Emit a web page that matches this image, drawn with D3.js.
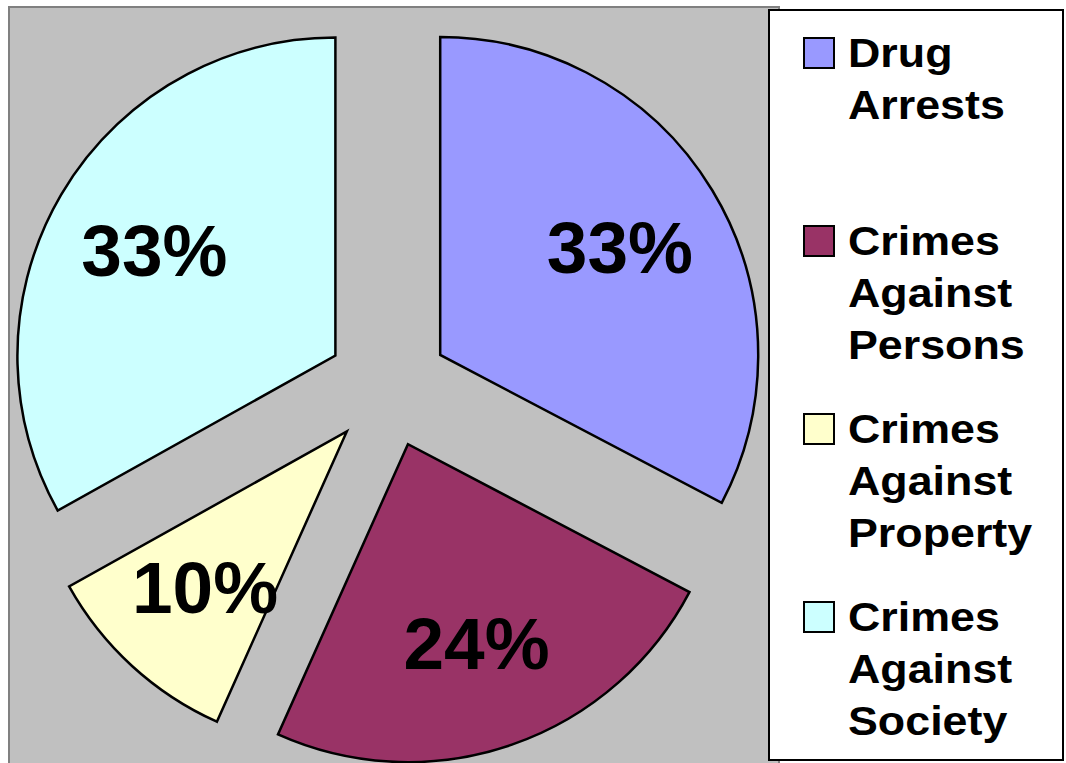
<!DOCTYPE html>
<meta charset="utf-8">
<style>
body { margin: 0; background: #fff; }
text { font-family: Arial, "Liberation Sans", sans-serif; font-weight: bold; }
</style>
<svg width="1066" height="763"></svg>
<script src="https://d3js.org/d3.v7.min.js"></script>
<script>

var categories = ["Drug Arrests", "Crimes Against Persons", "Crimes Against Property", "Crimes Against Society"];
var values = [32.7, 24.0, 10.2, 33.1];
var colors = ["#9999FF", "#993366", "#FFFFCC", "#CCFFFF"];

var svg = d3.select("svg"),
    width = +svg.attr("width"),
    height = +svg.attr("height");

// plot area
svg.append("rect")
    .attr("x", 9).attr("y", 7)
    .attr("width", 770).attr("height", 770)
    .attr("fill", "#C0C0C0")
    .attr("stroke", "#808080")
    .attr("stroke-width", 2);

var cx = 388, cy = 386.5, radius = 318, explode = 61;

var pie = d3.pie().sort(null).value(function(d) { return d; });
var arcs = pie(values);

var arc = d3.arc().innerRadius(0).outerRadius(radius);

var slices = svg.append("g")
    .attr("transform", "translate(" + cx + "," + cy + ")")
  .selectAll("g")
  .data(arcs)
  .enter().append("g")
    .attr("transform", function(d) {
      var a = (d.startAngle + d.endAngle) / 2;
      return "translate(" + (Math.sin(a) * explode) + "," + (-Math.cos(a) * explode) + ")";
    });

slices.append("path")
    .attr("d", arc)
    .attr("fill", function(d, i) { return colors[i]; })
    .attr("stroke", "#000")
    .attr("stroke-width", 2.5)
    .attr("stroke-linejoin", "miter");

slices.append("text")
    .attr("transform", function(d) {
      var a = (d.startAngle + d.endAngle) / 2, r = radius * 0.66;
      return "translate(" + (Math.sin(a) * r) + "," + (-Math.cos(a) * r) + ")";
    })
    .attr("text-anchor", "middle")
    .attr("dy", "0.36em")
    .attr("font-size", 73)
    .text(function(d) { return Math.round(d.value) + "%"; });

// legend
svg.append("rect")
    .attr("x", 769).attr("y", 10)
    .attr("width", 294).attr("height", 750)
    .attr("fill", "#fff")
    .attr("stroke", "#000")
    .attr("stroke-width", 2);

var legend = svg.append("g").selectAll("g")
  .data(categories)
  .enter().append("g")
    .attr("transform", function(d, i) { return "translate(804," + (67 + i * 188) + ")"; });

legend.append("rect")
    .attr("x", 0).attr("y", -29)
    .attr("width", 30).attr("height", 30)
    .attr("fill", function(d, i) { return colors[i]; })
    .attr("stroke", "#000")
    .attr("stroke-width", 2);

legend.each(function(d) {
  var g = d3.select(this);
  d.split(" ").forEach(function(w, j) {
    g.append("text")
        .attr("transform", "translate(44," + (j * 52) + ") scale(1.12,1)")
        .attr("font-size", 40)
        .text(w);
  });
});

</script>
